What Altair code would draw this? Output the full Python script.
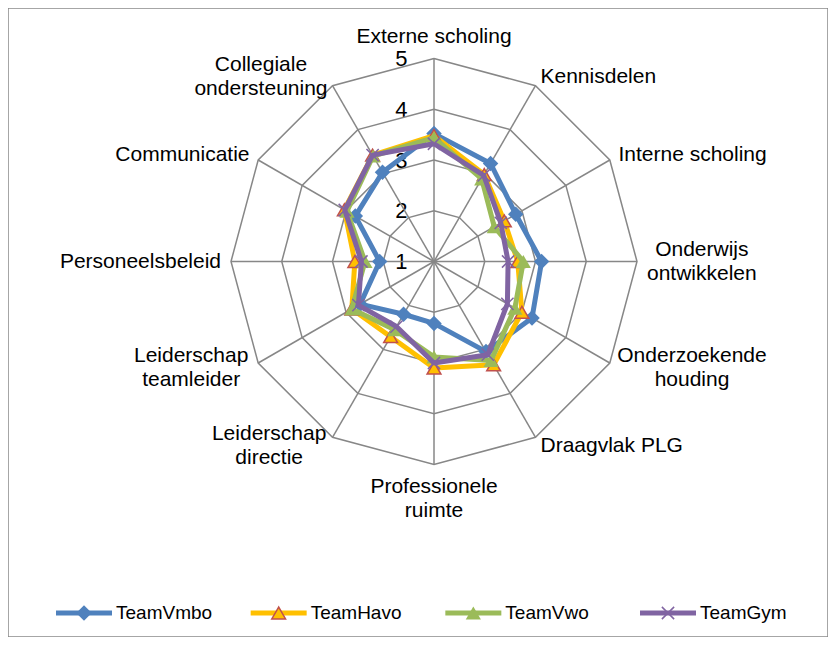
import altair as alt
import pandas as pd

# ---------------- data ----------------
categories = [
    "Externe scholing", "Kennisdelen", "Interne scholing", "Onderwijs\nontwikkelen",
    "Onderzoekende\nhouding", "Draagvlak PLG", "Professionele\nruimte",
    "Leiderschap\ndirectie", "Leiderschap\nteamleider", "Personeelsbeleid",
    "Communicatie", "Collegiale\nondersteuning",
]
teams = ["TeamVmbo", "TeamHavo", "TeamVwo", "TeamGym"]
team_vmbo = [3.52, 3.23, 2.86, 3.12, 3.23, 3.05, 2.22, 2.20, 2.68, 2.07, 2.79, 3.03]
team_havo = [3.48, 2.98, 2.60, 2.65, 3.00, 3.35, 3.10, 2.71, 2.87, 2.56, 3.04, 3.42]
team_vwo = [3.44, 2.88, 2.37, 2.76, 2.84, 3.25, 2.88, 2.55, 2.87, 2.36, 2.98, 3.40]
team_gym = [3.32, 2.96, 2.52, 2.46, 2.67, 3.12, 3.00, 2.48, 2.72, 2.43, 3.03, 3.42]
tick_values = [1, 2, 3, 4, 5]

# ---------------- styling ----------------
colors = ["#4F81BD", "#FFC000", "#9BBB59", "#8064A2"]
FONT = "Liberation Sans"
GRID = "#878787"
W, H = 820, 629
PX = 50.75            # pixels per value unit
CX, CY = 426, 253.5   # centre of the radar inside the view
N = len(categories)
VMIN = tick_values[0]
ANG = f"datum.k*2*PI/{N}"

xscale = alt.Scale(domain=[-CX / PX, (W - CX) / PX], nice=False, zero=False)
yscale = alt.Scale(domain=[VMIN - (H - CY) / PX, VMIN + CY / PX], nice=False, zero=False)
yaxis = alt.Axis(values=tick_values, format="d", domain=False, ticks=False, grid=False,
                 title=None, offset=-401, labelPadding=2, labelFontSize=22,
                 labelFont=FONT, labelColor="black")
color_scale = alt.Scale(domain=teams, range=colors)


def X(f):
    return alt.X(f, type="quantitative", scale=xscale, axis=None)


def Y(f):
    return alt.Y(f, type="quantitative", scale=yscale, axis=yaxis)


# ---------------- grid rings ----------------
ring_df = pd.DataFrame([{"level": lv, "k": k} for lv in tick_values[1:] for k in range(N + 1)])
rings = alt.Chart(ring_df).transform_calculate(
    x=f"(datum.level-{VMIN})*sin({ANG})",
    y=f"{VMIN}+(datum.level-{VMIN})*cos({ANG})",
).mark_line(color=GRID, strokeWidth=1.5).encode(
    x=X("x"), y=Y("y"), detail="level:N", order="k:Q"
)

# ---------------- spokes ----------------
spoke_df = pd.DataFrame({"k": list(range(N))})
vmax = tick_values[-1]
spokes = alt.Chart(spoke_df).transform_calculate(
    x0="0", y0=f"{VMIN}",
    x1=f"({vmax}-{VMIN})*sin({ANG})",
    y1=f"{VMIN}+({vmax}-{VMIN})*cos({ANG})",
).mark_rule(color=GRID, strokeWidth=1.5).encode(
    x=X("x0"), y=Y("y0"), x2="x1:Q", y2="y1:Q"
)

# ---------------- series ----------------
series_values = [team_vmbo, team_havo, team_vwo, team_gym]
rows = []
for t, vals in zip(teams, series_values):
    for k in range(N + 1):
        rows.append({"team": t, "k": k, "value": vals[k % N]})
series_df = pd.DataFrame(rows)

base = alt.Chart(series_df).transform_calculate(
    x=f"(datum.value-{VMIN})*sin({ANG})",
    y=f"{VMIN}+(datum.value-{VMIN})*cos({ANG})",
)

marker_specs = {
    "TeamVmbo": dict(shape="diamond", size=240, filled=True),
    "TeamHavo": dict(shape="triangle-up", size=190, filled=True, stroke="#C0504D", strokeWidth=1.5),
    "TeamVwo": dict(shape="triangle-up", size=230, filled=True),
    "TeamGym": dict(shape="M-1,-1L1,1M-1,1L1,-1", size=150, filled=False, strokeWidth=1.5),
}

series_layers = []
for t in teams:
    b = base.transform_filter(alt.datum.team == t)
    line = b.mark_line(strokeWidth=5, strokeJoin="round").encode(
        x=X("x"), y=Y("y"), order="k:Q",
        color=alt.Color("team:N", scale=color_scale, legend=None),
    )
    pts = b.transform_filter(f"datum.k < {N}").mark_point(opacity=1, **marker_specs[t]).encode(
        x=X("x"), y=Y("y"),
        color=alt.Color("team:N", scale=color_scale, legend=None),
    )
    series_layers += [line, pts]

# ---------------- category labels ----------------
LFS = 21     # label font size
LH = 24      # line height px
# approximate Arial/Liberation Sans advance widths (per 1000 em) to centre multi-line labels
_AW = {c: 556 for c in "abdeghnopqu"}
_AW.update({c: 500 for c in "cksvxyz"})
_AW.update({"f": 278, "t": 278, "i": 222, "j": 222, "l": 222, "r": 333, "m": 833, "w": 722, " ": 278})


def text_w(s):
    return sum(_AW.get(ch, 667) for ch in s) * LFS / 1000.0


label_df = pd.DataFrame({
    "label": categories,
    "k": list(range(N)),
    "nl": [len(c.split("\n")) for c in categories],
    "tw": [max(text_w(p) for p in c.split("\n")) for c in categories],
})
GAP = 10 / PX
lab = alt.Chart(label_df).transform_calculate(
    s=f"sin({ANG})", c=f"cos({ANG})",
).transform_calculate(
    al="abs(datum.s)<0.01 || datum.nl>1 ? 'center' : (datum.s>0 ? 'left' : 'right')",
    lx=f"({vmax - VMIN}+{GAP})*datum.s + ((abs(datum.s)>=0.01 && datum.nl>1) ? (datum.s>0?1:-1)*datum.tw/2/{PX} : 0)",
    ly=(f"{VMIN}+({vmax - VMIN}+{GAP})*datum.c"
        f" + (abs(datum.s)<0.01 ? (datum.c>0?1:-1)*datum.nl*{LH}/2/{PX} : 0)"
        f" + (datum.nl-1)*{LH}/2/{PX}"),
)
label_layers = []
for al in ["left", "right", "center"]:
    label_layers.append(
        lab.transform_filter(f"datum.al == '{al}'").mark_text(
            align=al, baseline="middle", lineBreak="\n", lineHeight=LH,
            fontSize=LFS, font=FONT, color="black",
        ).encode(x=X("lx"), y=Y("ly"), text="label:N")
    )

radar = alt.layer(rings, spokes, *series_layers, *label_layers)

# ---------------- legend ----------------
legend_df = pd.DataFrame({"team": teams})
lx_scale = alt.Scale(type="point", domain=teams, range=[76, 660], padding=0)
LEG_Y = 605
lx = alt.X("team:N", scale=lx_scale, axis=None)
leg_layers = []
for t in teams:
    lb = alt.Chart(legend_df).transform_filter(alt.datum.team == t)
    leg_layers.append(
        lb.mark_point(shape="M-1,0L1,0", size=3136, strokeWidth=5, filled=False, opacity=1).encode(
            x=lx, y=alt.value(LEG_Y),
            color=alt.Color("team:N", scale=color_scale, legend=None),
        )
    )
    leg_layers.append(
        lb.mark_point(opacity=1, **marker_specs[t]).encode(
            x=lx, y=alt.value(LEG_Y),
            color=alt.Color("team:N", scale=color_scale, legend=None),
        )
    )
leg_layers.append(
    alt.Chart(legend_df).mark_text(align="left", baseline="middle", dx=32, fontSize=19,
                                   font=FONT, color="black").encode(
        x=lx, y=alt.value(LEG_Y), text="team:N"
    )
)
legend = alt.layer(*leg_layers)

chart = alt.layer(radar, legend).resolve_scale(x="independent").properties(
    width=W, height=H, padding=0, autosize=alt.AutoSizeParams(type="none"),
).configure_view(stroke="#898989", strokeWidth=1.5)

chart.save("out.html", embed_options={"renderer": "svg", "actions": False})
